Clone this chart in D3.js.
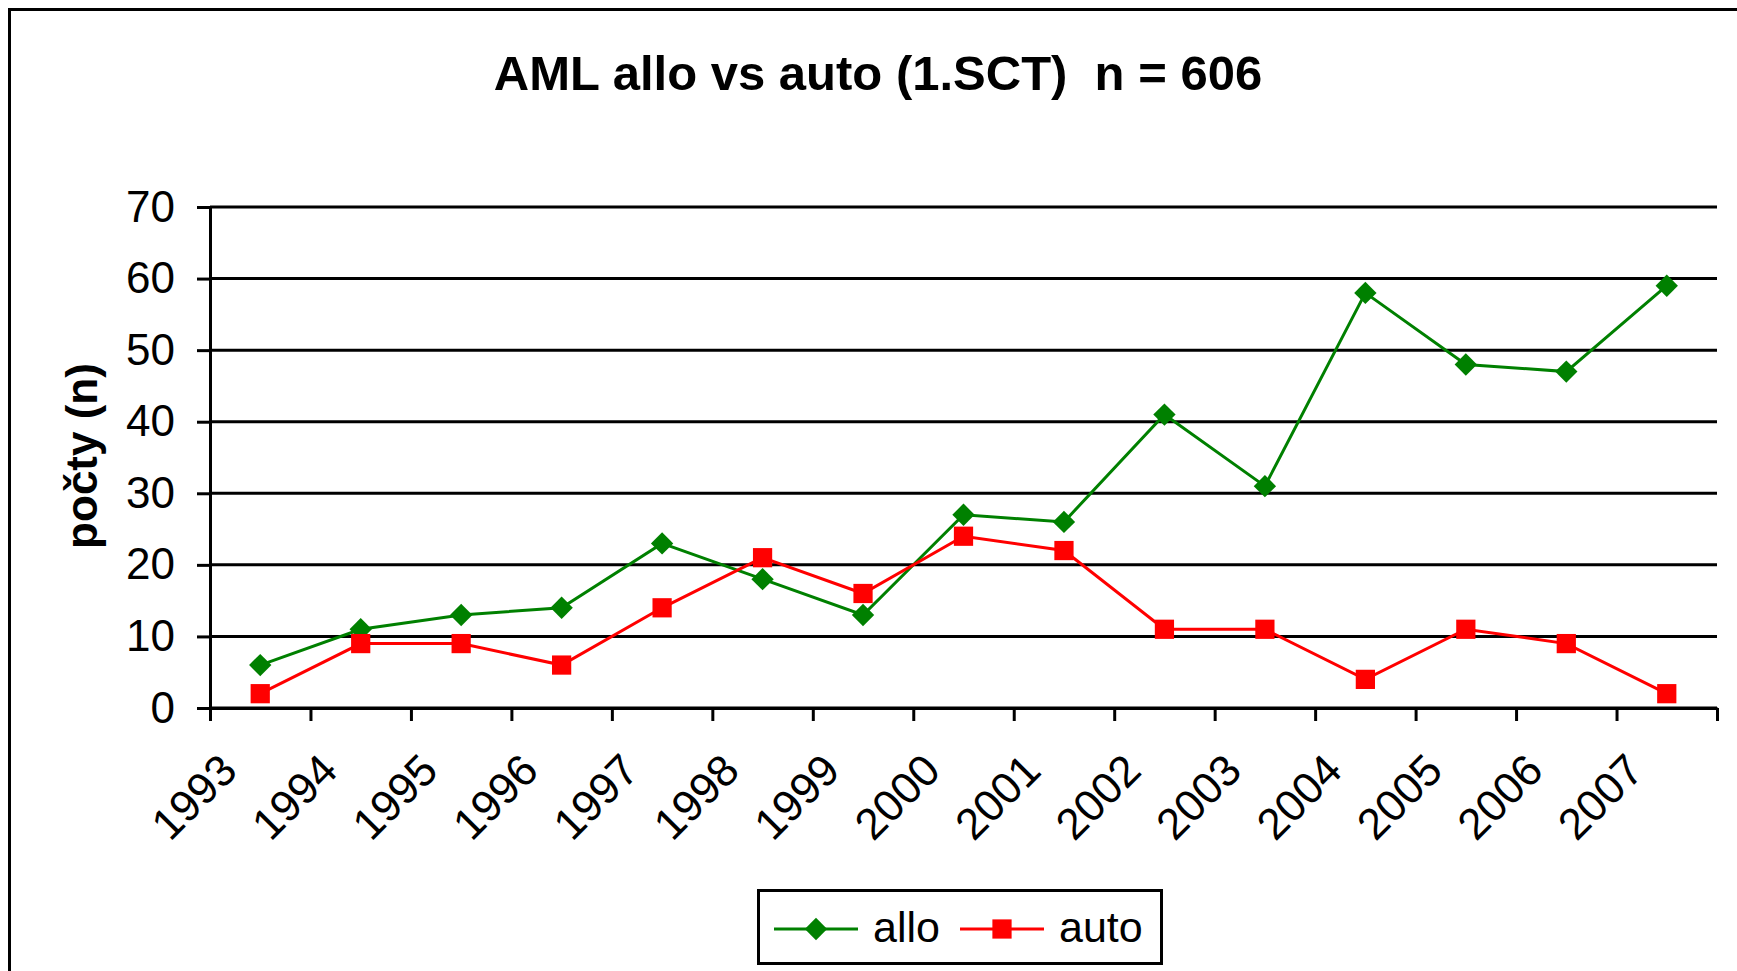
<!DOCTYPE html>
<html>
<head>
<meta charset="utf-8">
<script src="https://cdn.jsdelivr.net/npm/d3@7"></script>
<style>
    body { margin: 0; background: #fff; }
    text { font-family: "Liberation Sans", Arial, sans-serif; fill: #000; }
</style>
</head>
<body>
<div id="chart"></div>
<script>
var width = 1737;
var height = 971;

var years = ["1993", "1994", "1995", "1996", "1997", "1998", "1999", "2000",
             "2001", "2002", "2003", "2004", "2005", "2006", "2007"];
var alloValues = [6, 11, 13, 14, 23, 18, 13, 27, 26, 41, 31, 58, 48, 47, 59];
var autoValues = [2, 9, 9, 6, 14, 21, 16, 24, 22, 11, 11, 4, 11, 9, 2];
var yTicks = [0, 10, 20, 30, 40, 50, 60, 70];
var seriesNames = ["allo", "auto"];
var seriesColors = ["#008000", "#ff0000"];
var titleText = "AML allo vs auto (1.SCT)  n = 606";
var yTitle = "počty (n)";

var plot = { left: 210, right: 1717, top: 207, bottom: 708 };

var svg = d3.select("#chart")
    .append("svg")
    .attr("width", width)
    .attr("height", height);

svg.append("rect")
    .attr("width", width)
    .attr("height", height)
    .attr("fill", "#fff");

// outer frame, runs off the right and bottom edge like the original
svg.append("rect")
    .attr("x", 9.5)
    .attr("y", 9.5)
    .attr("width", width + 50)
    .attr("height", height + 50)
    .attr("fill", "none")
    .attr("stroke", "#000")
    .attr("stroke-width", 3);

svg.append("text")
    .attr("x", 878)
    .attr("y", 90)
    .attr("text-anchor", "middle")
    .style("white-space", "pre")
    .style("font-size", "49px")
    .style("font-weight", "bold")
    .text(titleText);

svg.append("text")
    .attr("transform", "translate(97,456) rotate(-90)")
    .attr("text-anchor", "middle")
    .style("font-size", "44px")
    .style("font-weight", "bold")
    .text(yTitle);

var x = d3.scaleBand()
    .domain(years)
    .range([plot.left, plot.right]);

var xEdge = d3.scaleLinear()
    .domain([0, years.length])
    .range([plot.left, plot.right]);

var y = d3.scaleLinear()
    .domain([0, 70])
    .range([plot.bottom, plot.top]);

function cx(d, i) {
    return x(years[i]) + x.bandwidth() / 2;
}

/**
 * Horizontal grid lines.
 */
svg.append("g")
    .selectAll("line")
    .data(yTicks)
    .enter()
    .append("line")
    .attr("x1", plot.left)
    .attr("x2", plot.right)
    .attr("y1", function (d) { return y(d); })
    .attr("y2", function (d) { return y(d); })
    .attr("stroke", "#000")
    .attr("stroke-width", 3);

var yAxis = svg.append("g")
    .attr("transform", "translate(" + plot.left + ",0)")
    .call(d3.axisLeft(y).tickValues(yTicks).tickSize(13).tickSizeOuter(0).tickPadding(22));

var xAxis = svg.append("g")
    .attr("transform", "translate(0," + plot.bottom + ")")
    .call(d3.axisBottom(xEdge).ticks(years.length).tickFormat("").tickSize(13).tickSizeOuter(0));

[yAxis, xAxis].forEach(function (g) {
    g.select(".domain").attr("stroke-width", 3);
    g.selectAll(".tick line").attr("stroke-width", 3);
});

yAxis.selectAll(".tick text")
    .style("font-size", "44px")
    .style("font-family", "'Liberation Sans', Arial, sans-serif")
    .attr("fill", "#000");

// rotated year labels, right end just left of the category centre
svg.append("g")
    .selectAll("text")
    .data(years)
    .enter()
    .append("text")
    .attr("text-anchor", "end")
    .attr("transform", function (d) {
        return "translate(" + (x(d) + x.bandwidth() / 2 - 21) + "," + (plot.bottom + 65) + ") rotate(-45)";
    })
    .style("font-size", "44px")
    .text(function (d) { return d; });

var line = d3.line()
    .x(cx)
    .y(function (d) { return y(d); });

var diamond = d3.symbol().type(d3.symbolSquare).size(250);
var square = d3.symbol().type(d3.symbolSquare).size(370);

var series = [
    { name: seriesNames[0], values: alloValues, color: seriesColors[0], symbol: diamond, rotate: 45 },
    { name: seriesNames[1], values: autoValues, color: seriesColors[1], symbol: square, rotate: 0 }
];

series.forEach(function (s) {
    svg.append("path")
        .datum(s.values)
        .attr("d", line)
        .attr("fill", "none")
        .attr("stroke", s.color)
        .attr("stroke-width", 3);

    svg.append("g")
        .selectAll("path")
        .data(s.values)
        .enter()
        .append("path")
        .attr("d", s.symbol)
        .attr("transform", function (d, i) {
            return "translate(" + cx(d, i) + "," + y(d) + ") rotate(" + s.rotate + ")";
        })
        .attr("fill", s.color);
});

/**
 * Legend box at the bottom.
 */
var legend = svg.append("g");

legend.append("rect")
    .attr("x", 758.5)
    .attr("y", 890.5)
    .attr("width", 403)
    .attr("height", 73)
    .attr("fill", "#fff")
    .attr("stroke", "#000")
    .attr("stroke-width", 3);

var legendX = [774, 960];

series.forEach(function (s, i) {
    var lx = legendX[i];
    legend.append("line")
        .attr("x1", lx)
        .attr("x2", lx + 84)
        .attr("y1", 929)
        .attr("y2", 929)
        .attr("stroke", s.color)
        .attr("stroke-width", 3);
    legend.append("path")
        .attr("d", s.symbol)
        .attr("transform", "translate(" + (lx + 42) + ",929) rotate(" + s.rotate + ")")
        .attr("fill", s.color);
    legend.append("text")
        .attr("x", lx + 99)
        .attr("y", 942)
        .style("font-size", "43px")
        .text(s.name);
});
</script>
</body>
</html>
